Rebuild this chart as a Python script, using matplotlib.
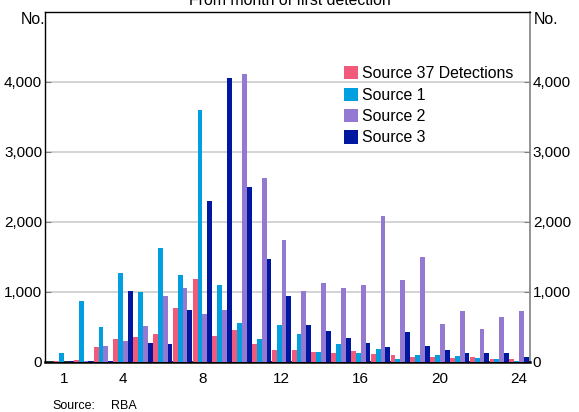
import numpy as np
import matplotlib
matplotlib.use("Agg")
import matplotlib.pyplot as plt
from matplotlib.ticker import FuncFormatter

plt.rcParams['font.family'] = ['Liberation Sans', 'DejaVu Sans']

# Data
months = list(range(1, 25))
series_names = ["Source 37 Detections", "Source 1", "Source 2", "Source 3"]
detections_37 = [10, 30, 210, 330, 350, 400, 770, 1190, 370, 450, 250, 170,
                 170, 140, 135, 150, 120, 105, 75, 67, 57, 67, 43, 43]
source_1 = [130, 870, 500, 1270, 1000, 1630, 1240, 3600, 1100, 550, 325, 525,
            400, 145, 257, 130, 186, 45, 100, 100, 86, 57, 43, 10]
source_2 = [5, 10, 230, 300, 510, 940, 1060, 685, 740, 4110, 2625, 1740,
            1015, 1130, 1057, 1100, 2086, 1171, 1500, 543, 729, 471, 643, 729]
source_3 = [10, 15, 20, 1010, 270, 260, 740, 2295, 4050, 2495, 1467, 940,
            529, 443, 343, 271, 214, 429, 229, 171, 129, 129, 129, 71]
x_ticks = [1, 4, 8, 12, 16, 20, 24]
y_ticks = [0, 1000, 2000, 3000, 4000]

colors = ["#F25A7C", "#00A0E0", "#9479D2", "#0018A0"]

fig = plt.figure(figsize=(5.79, 4.12), dpi=100)
ax = fig.add_axes([0.0777, 0.1214, 0.8377, 0.8495])

x = np.array(months)
width = 0.245
all_series = [detections_37, source_1, source_2, source_3]
for i, (vals, name, col) in enumerate(zip(all_series, series_names, colors)):
    ax.bar(x + (i - 1.5) * width, vals, width=width, color=col, label=name,
           zorder=3, linewidth=0)

ax.set_xlim(0.05, 24.55)
ax.set_ylim(0, 5000)
ax.set_xticks(x_ticks)
ax.set_yticks(y_ticks)
ax.yaxis.set_major_formatter(FuncFormatter(lambda v, p: f"{int(v):,}"))
ax.grid(axis='y', color='#d3d3d3', linewidth=1.4, zorder=0)
ax.set_axisbelow(True)

ax.tick_params(axis='y', direction='in', length=4, labelsize=11,
               right=True, labelright=True, pad=2, color='#808080')
ax.tick_params(axis='x', direction='out', length=0, labelsize=11, pad=7)

for side in ['left', 'top']:
    ax.spines[side].set_color('black')
    ax.spines[side].set_linewidth(1.0)
ax.spines['right'].set_color('#808080')
ax.spines['right'].set_linewidth(1.2)
ax.spines['bottom'].set_color('black')
ax.spines['bottom'].set_linewidth(1.8)

ax.legend(loc='upper left', bbox_to_anchor=(0.604, 0.863), frameon=False,
          fontsize=11.4, handlelength=0.85, handleheight=0.9,
          handletextpad=0.3, labelspacing=0.4, borderaxespad=0)

# unit labels and title
fig.text(0.078, 0.952, "No.", ha='right', va='center', fontsize=11.4)
fig.text(0.921, 0.952, "No.", ha='left', va='center', fontsize=11.4)
fig.text(0.5, 0.988, "From month of first detection", ha='center',
         va='baseline', fontsize=11.4)
fig.text(0.09, 0.008, "Source:", ha='left', va='baseline', fontsize=9)
fig.text(0.192, 0.008, "RBA", ha='left', va='baseline', fontsize=9)

fig.savefig("out.png", dpi=100)
